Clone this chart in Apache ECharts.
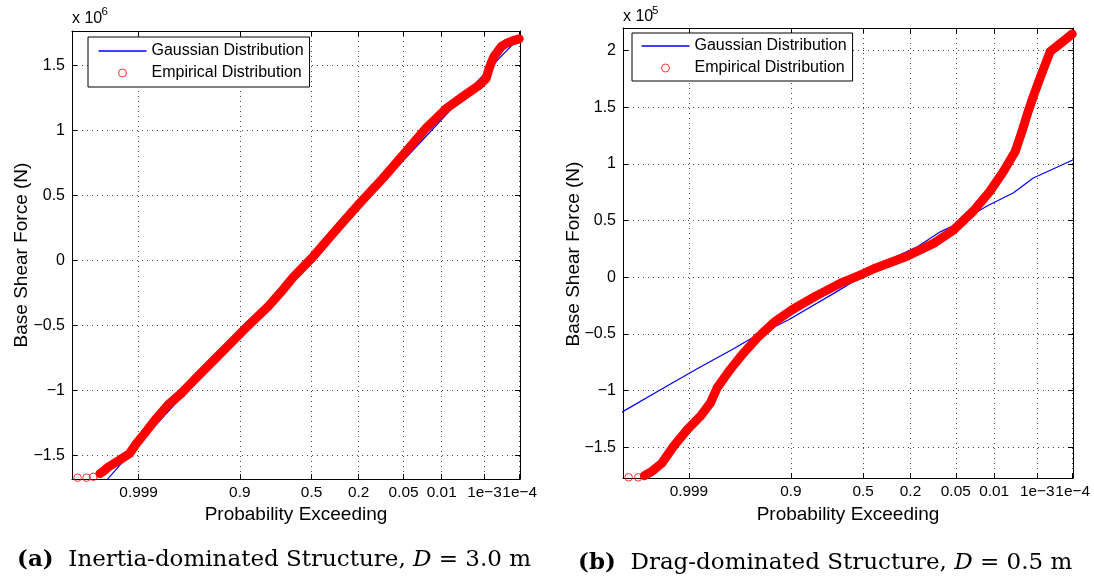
<!DOCTYPE html>
<html><head><meta charset="utf-8">
<script src="https://cdn.jsdelivr.net/npm/echarts@6/dist/echarts.min.js"></script>
<style>html,body{margin:0;padding:0;background:#fff}#c{width:1094px;height:581px}</style>
</head><body><div id="c"></div>
<script>
// ---- data ----
const xTickProbs = [0.999, 0.9, 0.5, 0.2, 0.05, 0.01, 1e-3, 1e-4];
const xTickLabels = ['0.999', '0.9', '0.5', '0.2', '0.05', '0.01', '1e\u22123', '1e\u22124'];
const yTicksA = [-1.5, -1, -0.5, 0, 0.5, 1, 1.5];
const yTicksB = [-1.5, -1, -0.5, 0, 0.5, 1, 1.5, 2];
// (a) [normal quantile, force x1e6]
const empiricalA = [[-4.18,-1.672],[-4.02,-1.672],[-3.90,-1.665],[-3.78,-1.64],[-3.70,-1.615],[-3.63,-1.59],[-3.43,-1.536],[-3.25,-1.485],[-3.13,-1.41],[-2.98,-1.33],[-2.80,-1.23],[-2.56,-1.11],[-2.32,-1.02],[-2.03,-0.89],[-1.73,-0.76],[-1.43,-0.63],[-1.13,-0.50],[-0.78,-0.357],[-0.55,-0.245],[-0.33,-0.13],[0.03,0.03],[0.44,0.235],[0.86,0.44],[1.28,0.635],[1.69,0.84],[2.05,1.02],[2.41,1.17],[2.70,1.26],[3.00,1.35],[3.12,1.40],[3.16,1.46],[3.21,1.52],[3.26,1.57],[3.33,1.61],[3.40,1.65],[3.50,1.675],[3.59,1.69],[3.71,1.705]];
const gaussianA = [[-4.28,-1.96],[-3.66,-1.69],[-3.0,-1.37],[-2.0,-0.90],[-1.0,-0.44],[0,0.015],[1.0,0.475],[2.0,0.935],[3.0,1.395],[3.34,1.55],[3.725,1.72]];
// (b) [normal quantile, force x1e5]
const empiricalB = [[-4.16,-1.765],[-3.99,-1.765],[-3.88,-1.75],[-3.74,-1.71],[-3.57,-1.64],[-3.36,-1.49],[-3.12,-1.345],[-2.89,-1.228],[-2.71,-1.11],[-2.59,-0.977],[-2.36,-0.816],[-2.12,-0.668],[-1.88,-0.536],[-1.56,-0.39],[-1.26,-0.287],[-0.85,-0.169],[-0.39,-0.05],[0.0,0.03],[0.19,0.075],[0.78,0.185],[1.25,0.298],[1.60,0.415],[1.96,0.585],[2.25,0.757],[2.49,0.933],[2.70,1.109],[2.82,1.286],[2.93,1.462],[3.02,1.594],[3.14,1.757],[3.23,1.874],[3.32,1.99],[3.55,2.08],[3.71,2.145]];
const gaussianB = [[-4.28,-1.19],[-3.51,-0.968],[-2.92,-0.80],[-2.33,-0.64],[-1.97,-0.536],[-1.32,-0.375],[-0.46,-0.125],[0.48,0.158],[0.95,0.265],[1.37,0.40],[1.66,0.47],[2.20,0.628],[2.67,0.745],[3.02,0.875],[3.41,0.963],[3.73,1.036]];

// ---- helpers ----
const FONT = '"Liberation Sans", Arial, Helvetica, sans-serif';
const SERIF = '"DejaVu Serif", serif';
function normInv(p) {
  const a=[-3.969683028665376e+01,2.209460984245205e+02,-2.759285104469687e+02,1.383577518672690e+02,-3.066479806614716e+01,2.506628277459239e+00];
  const b=[-5.447609879822406e+01,1.615858368580409e+02,-1.556989798598866e+02,6.680131188771972e+01,-1.328068155288572e+01];
  const c=[-7.784894002430293e-03,-3.223964580411365e-01,-2.400758277161838e+00,-2.549671348283441e+00,4.374664141464968e+00,2.938163982698783e+00];
  const d=[7.784695709041462e-03,3.224671290700398e-01,2.445134137142996e+00,3.754408661907416e+00];
  const pl=0.02425, ph=1-pl; let q,r;
  if (p<pl){q=Math.sqrt(-2*Math.log(p));return (((((c[0]*q+c[1])*q+c[2])*q+c[3])*q+c[4])*q+c[5])/((((d[0]*q+d[1])*q+d[2])*q+d[3])*q+1);}
  if (p<=ph){q=p-0.5;r=q*q;return (((((a[0]*r+a[1])*r+a[2])*r+a[3])*r+a[4])*r+a[5])*q/(((((b[0]*r+b[1])*r+b[2])*r+b[3])*r+b[4])*r+1);}
  q=Math.sqrt(-2*Math.log(1-p));return -(((((c[0]*q+c[1])*q+c[2])*q+c[3])*q+c[4])*q+c[5])/((((d[0]*q+d[1])*q+d[2])*q+d[3])*q+1);
}
const xTickZ = xTickProbs.map(p => normInv(1 - p));
function xLabel(v){let bi=0,bd=Infinity;xTickZ.forEach((z,i)=>{const dd=Math.abs(z-v);if(dd<bd){bd=dd;bi=i;}});return xTickLabels[bi];}
function yLabel(v){return v<0?'\u2212'+String(Math.abs(v)):String(v);}

const grids = [
  {left:72, top:31, width:448, height:448},
  {left:623, top:28, width:450, height:450}
];
const ranges = [
  {xmin:-4.28, xmax:3.725, ymin:-1.682, ymax:1.766, yt:yTicksA},
  {xmin:-4.26, xmax:3.725, ymin:-1.771, ymax:2.198, yt:yTicksB}
];
const gridLine = {show:true, lineStyle:{color:'#444', type:[1,4], width:1}};
const axLine = {show:true, onZero:false, lineStyle:{color:'#000', width:1}};
const xAxis = [], yAxis = [];
ranges.forEach((r, gi) => {
  xAxis.push({gridIndex:gi, type:'value', position:'bottom', min:r.xmin, max:r.xmax,
    axisLine:axLine, axisTick:{show:true, inside:true, length:5, customValues:xTickZ, lineStyle:{color:'#000'}},
    axisLabel:{show:true, customValues:xTickZ, formatter:xLabel, margin:6, color:'#000', fontSize:15.4, fontFamily:FONT,
      hideOverlap:false, showMinLabel:true, showMaxLabel:true},
    splitLine:gridLine});
  xAxis.push({gridIndex:gi, type:'value', position:'top', min:r.xmin, max:r.xmax,
    axisLine:axLine, axisTick:{show:true, inside:true, length:5, customValues:xTickZ, lineStyle:{color:'#000'}},
    axisLabel:{show:false}, splitLine:{show:false}});
  yAxis.push({gridIndex:gi, type:'value', position:'left', min:r.ymin, max:r.ymax,
    axisLine:axLine, axisTick:{show:true, inside:true, length:5, customValues:r.yt, lineStyle:{color:'#000'}},
    axisLabel:{show:true, customValues:r.yt, formatter:yLabel, margin:7, color:'#000', fontSize:16, fontFamily:FONT},
    splitLine:gridLine});
  yAxis.push({gridIndex:gi, type:'value', position:'right', min:r.ymin, max:r.ymax,
    axisLine:axLine, axisTick:{show:true, inside:true, length:5, customValues:r.yt, lineStyle:{color:'#000'}},
    axisLabel:{show:false}, splitLine:{show:false}});
});

const series = [];
[[empiricalA, gaussianA, 3], [empiricalB, gaussianB, 2]].forEach(([emp, gau, bandStart], gi) => {
  series.push({name:'Gaussian Distribution', type:'line', xAxisIndex:gi*2, yAxisIndex:gi*2, data:gau,
    symbol:'none', lineStyle:{color:'#0000ff', width:1.2}, itemStyle:{color:'#0000ff'}, z:2, silent:true});
  series.push({name:'band'+gi, type:'line', xAxisIndex:gi*2, yAxisIndex:gi*2, data:emp.slice(bandStart),
    symbol:'none', lineStyle:{color:'#ff0000', width:9, cap:'round', join:'round'}, z:3, silent:true});
  series.push({name:'Empirical Distribution', type:'scatter', xAxisIndex:gi*2, yAxisIndex:gi*2, data:emp,
    symbol:'circle', symbolSize:7.5, itemStyle:{color:'rgba(255,0,0,0)', borderColor:'#ff0000', borderWidth:1}, z:4, silent:true});
});

const legendBase = {orient:'vertical', backgroundColor:'#fff', borderColor:'#000', borderWidth:1,
  itemWidth:48, itemHeight:8, itemGap:6, selectedMode:false,
  textStyle:{fontSize:16, fontFamily:FONT, color:'#000', lineHeight:16},
  data:[{name:'Gaussian Distribution', icon:'path://M0,0L48,0L48,1.3L0,1.3Z', itemStyle:{color:'#0000ff', borderWidth:0}},
        {name:'Empirical Distribution', icon:'circle', itemStyle:{color:'rgba(255,0,0,0)', borderColor:'#ff0000', borderWidth:1}}]};
const legend = [
  Object.assign({}, legendBase, {left:88, top:37, padding:[6,6,6,10.5]}),
  Object.assign({}, legendBase, {left:632, top:33, padding:[5,6,5,9.5]})
];

const txt = (x, y, text, size, extra) => ({type:'text', x, y, silent:true, z:100,
  style:Object.assign({text, fontSize:size, fontFamily:FONT, fill:'#000', textAlign:'left', textVerticalAlign:'middle'}, extra||{})});
const capRich = {b:{fontFamily:SERIF, fontSize:23, fontWeight:'bold', fill:'#000'},
                 n:{fontFamily:SERIF, fontSize:23, fill:'#000'},
                 i:{fontFamily:SERIF, fontSize:23, fontStyle:'italic', fill:'#000'}};
const graphic = [
  txt(72, 18.5, 'x 10', 16), txt(101.5, 11.5, '6', 11.5),
  txt(623, 17, 'x 10', 16), txt(652, 10.5, '5', 11.5),
  txt(296, 515, 'Probability Exceeding', 19, {textAlign:'center'}),
  txt(848, 515, 'Probability Exceeding', 19, {textAlign:'center'}),
  Object.assign(txt(22, 255, 'Base Shear Force (N)', 19, {textAlign:'center'}), {rotation:Math.PI/2}),
  Object.assign(txt(574, 254, 'Base Shear Force (N)', 19, {textAlign:'center'}), {rotation:Math.PI/2}),
  {type:'text', x:17, y:560, silent:true, style:{text:'{b|(a)}{n|  Inertia-dominated Structure, }{i|D}{n| = 3.0 m}', rich:capRich, textVerticalAlign:'middle', fill:'#000'}},
  {type:'text', x:578, y:563, silent:true, style:{text:'{b|(b)}{n|  Drag-dominated Structure, }{i|D}{n| = 0.5 m}', rich:capRich, textVerticalAlign:'middle', fill:'#000'}}
];

const chart = echarts.init(document.getElementById('c'), null, {renderer:'canvas', width:1094, height:581});
chart.setOption({animation:false, backgroundColor:'#fff', grid:grids, xAxis, yAxis, series, legend, graphic});
</script></body></html>
